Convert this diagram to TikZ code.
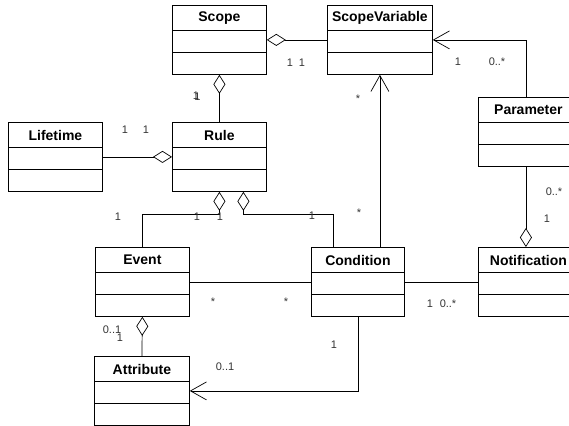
\documentclass[tikz,border=0pt]{standalone}
\usepackage{fontspec}
\setmainfont{Liberation Sans}
\usetikzlibrary{arrows.meta}
\tikzset{
  classbox/.style={draw, line width=0.8pt, minimum height=69pt, inner sep=0pt},
  classtitle/.style={font=\bfseries\fontsize{14}{16}\selectfont, inner sep=0pt},
  mult/.style={font=\fontsize{11}{13}\selectfont, inner sep=0pt, text=black!80},
  assoc/.style={line width=0.7pt},
  agg/.style={assoc, {Diamond[open, length=19pt, width=12pt]}-},
  nav/.style={assoc, -{Straight Barb[length=16pt, width=18pt]}},
}
% class box: name, title, x, y (top left), width
\newcommand{\umlclass}[5]{
  \node[classbox, minimum width=#5pt, anchor=north west] (#1) at (#3,#4) {};
  \node[classtitle] (#1-title) at ([yshift=-13pt]#1.north) {#2};
  \draw[line width=0.8pt] ([yshift=-25pt]#1.north west) -- ([yshift=-25pt]#1.north east);
  \draw[line width=0.8pt] ([yshift=-47pt]#1.north west) -- ([yshift=-47pt]#1.north east);
}
\begin{document}
\begin{tikzpicture}[x=1pt, y=-1pt]
  \useasboundingbox (0,0) rectangle (569,425);
  \clip (0,0) rectangle (569,425);
  \umlclass{scope}{Scope}{172}{5}{94}
  \umlclass{scopevar}{ScopeVariable}{327}{5}{105}
  \umlclass{parameter}{Parameter}{478}{97}{100}
  \umlclass{lifetime}{Lifetime}{8}{122}{94}
  \umlclass{rule}{Rule}{172}{122}{94}
  \umlclass{event}{Event}{95}{247}{94}
  \umlclass{condition}{Condition}{311}{247}{93}
  \umlclass{notification}{Notification}{478}{247}{100}
  \umlclass{attribute}{Attribute}{94}{356}{95}

  % aggregations
  \draw[agg] (scope.east) -- (scopevar.west);
  \draw[agg] (scope.south) -- (rule.north);
  \draw[agg] (rule.west) -- (lifetime.east);
  \draw[agg] (rule.south) -- ++(0,23) -| (event.north);
  \draw[agg] ([xshift=24pt]rule.south) -- ++(0,23) -| ([xshift=-24.5pt]condition.north);
  \draw[agg] ([xshift=-2.5pt]notification.north) -- ([xshift=-2.5pt]parameter.south);
  \draw[agg] (event.south) -- (attribute.north);

  % associations
  \draw[nav] (scopevar.south |- condition.north) -- (scopevar.south);
  \draw[nav] ([xshift=-2.5pt]parameter.north) |- (scopevar.east);
  \draw[nav] (condition.south) |- (attribute.east);
  \draw[assoc] (event.east) -- (condition.west);
  \draw[assoc] (condition.east) -- (notification.west);

  % multiplicities
  \foreach \n/\x/\y/\t in {a/290/63/1, b/302/63/1, c/196/96/1, d/197.5/97/1,
      e/125/130/1, f/146/130/1, g/118/217/1, h/197/217/1, i/220/217/1,
      j/312/216/1, k/359/213/*, l/358/99/*, m/458/62/1, n/497/62/0..*,
      o/554/192/0..*, p/547/219/1, q/213/302/*, r/286/302/*,
      s/430/304/1, t/448/304/0..*, u/112/330/0..1, v/120/338/1,
      w/334/345/1, x/225/367/0..1}
    \node[mult] (mult-\n) at (\x,\y) {\t};
\end{tikzpicture}
\end{document}
